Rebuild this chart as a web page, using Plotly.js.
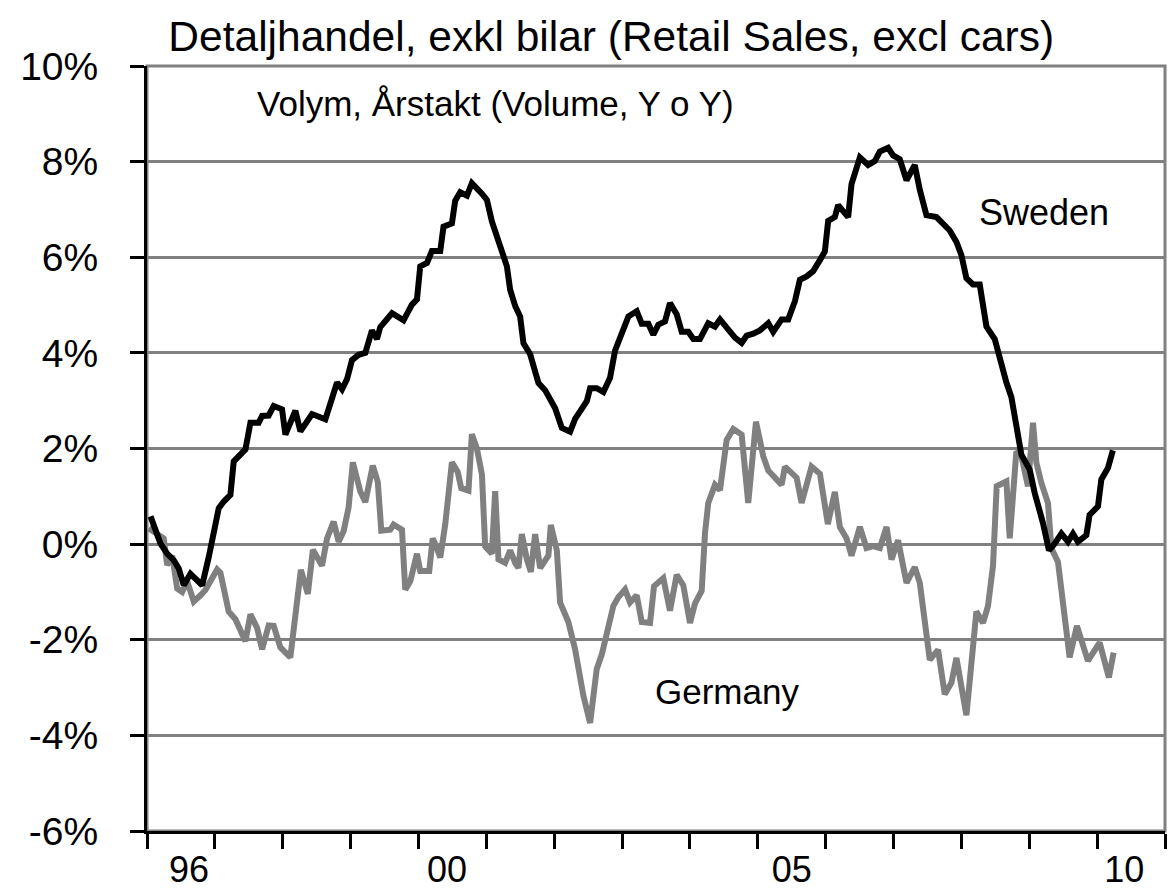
<!DOCTYPE html>
<html>
<head>
<meta charset="utf-8">
<script src="https://cdn.plot.ly/plotly-3.0.1.min.js"></script>
<style>html,body{margin:0;padding:0;background:#fff;}#chart{width:1171px;height:893px;}</style>
</head>
<body>
<div id="chart"></div>
<script>
// Decimal-year positions and values (%)
const swedenYear = [1996.052,1996.100,1996.199,1996.297,1996.395,1996.468,1996.542,1996.640,1996.813,1996.910,
1996.983,1997.057,1997.131,1997.229,1997.278,1997.376,1997.450,1997.524,1997.646,1997.696,
1997.793,1997.867,1997.990,1998.039,1998.186,1998.260,1998.432,1998.628,1998.726,1998.800,
1998.874,1998.947,1999.021,1999.118,1999.217,1999.315,1999.389,1999.437,1999.610,1999.780,
1999.904,1999.978,2000.026,2000.125,2000.198,2000.321,2000.369,2000.493,2000.541,2000.615,
2000.714,2000.787,2000.935,2001.008,2001.082,2001.155,2001.229,2001.303,2001.351,2001.425,
2001.498,2001.547,2001.646,2001.719,2001.768,2001.866,2001.940,2002.014,2002.112,2002.234,
2002.308,2002.407,2002.480,2002.529,2002.627,2002.725,2002.823,2002.897,2002.970,2003.093,
2003.216,2003.290,2003.387,2003.461,2003.534,2003.633,2003.706,2003.805,2003.879,2003.976,
2004.050,2004.148,2004.270,2004.369,2004.443,2004.541,2004.663,2004.762,2004.836,2004.933,
2005.031,2005.154,2005.227,2005.351,2005.448,2005.547,2005.620,2005.719,2005.816,2005.915,
2005.988,2006.037,2006.135,2006.184,2006.234,2006.331,2006.381,2006.504,2006.626,2006.724,
2006.798,2006.920,2006.994,2007.092,2007.191,2007.313,2007.387,2007.485,2007.633,2007.730,
2007.828,2007.927,2008.001,2008.074,2008.171,2008.270,2008.369,2008.491,2008.564,2008.663,
2008.737,2008.810,2008.884,2009.006,2009.080,2009.202,2009.290,2009.374,2009.473,2009.570,
2009.644,2009.717,2009.841,2009.889,2010.012,2010.062,2010.159,2010.232];
const swedenVal = [0.58,0.36,0.01,-0.2,-0.34,-0.51,-0.86,-0.62,-0.86,-0.27,
0.22,0.75,0.89,1.03,1.73,1.87,1.98,2.54,2.54,2.68,
2.69,2.89,2.82,2.29,2.79,2.36,2.72,2.61,3.09,3.38,
3.24,3.45,3.85,3.96,4.0,4.47,4.29,4.54,4.83,4.68,
5.01,5.12,5.81,5.88,6.13,6.13,6.64,6.71,7.18,7.36,
7.29,7.55,7.33,7.2,6.75,6.45,6.08,5.81,5.32,4.98,
4.76,4.2,3.97,3.63,3.37,3.22,3.03,2.84,2.43,2.35,
2.62,2.84,2.99,3.26,3.26,3.18,3.48,4.05,4.35,4.76,
4.87,4.61,4.61,4.38,4.59,4.66,5.04,4.81,4.44,4.44,
4.29,4.29,4.62,4.55,4.7,4.51,4.32,4.21,4.36,4.4,
4.47,4.62,4.44,4.7,4.7,5.08,5.53,5.6,5.71,5.94,
6.12,6.76,6.84,7.09,7.0,6.84,7.53,8.09,7.93,8.01,
8.21,8.29,8.13,8.05,7.61,7.93,7.41,6.88,6.84,6.68,
6.56,6.32,6.04,5.56,5.43,5.43,4.55,4.29,3.87,3.38,
3.07,2.47,1.87,1.56,1.07,0.44,-0.13,0.01,0.22,0.05,
0.22,0.05,0.19,0.61,0.79,1.35,1.59,1.96];

const germanyYear = [1996.026,1996.199,1996.247,1996.297,1996.371,1996.445,1996.518,1996.592,1996.689,1996.788,
1996.861,1997.033,1997.082,1997.204,1997.303,1997.450,1997.524,1997.622,1997.696,1997.793,
1997.867,1997.965,1998.112,1998.267,1998.370,1998.444,1998.579,1998.653,1998.750,1998.824,
1998.897,1998.971,1999.033,1999.143,1999.217,1999.327,1999.401,1999.452,1999.585,1999.633,
1999.757,1999.805,1999.879,1999.978,2000.026,2000.159,2000.210,2000.254,2000.321,2000.394,
2000.493,2000.578,2000.630,2000.737,2000.787,2000.861,2000.935,2000.983,2001.082,2001.130,
2001.179,2001.277,2001.351,2001.425,2001.473,2001.523,2001.597,2001.656,2001.719,2001.793,
2001.866,2001.915,2001.950,2002.039,2002.087,2002.209,2002.308,2002.430,2002.529,2002.627,
2002.701,2002.798,2002.872,2002.945,2003.044,2003.118,2003.216,2003.290,2003.412,2003.471,
2003.608,2003.706,2003.805,2003.902,2004.001,2004.075,2004.173,2004.222,2004.270,2004.369,
2004.443,2004.541,2004.638,2004.762,2004.859,2004.973,2005.080,2005.154,2005.277,2005.351,
2005.399,2005.498,2005.572,2005.645,2005.719,2005.792,2005.915,2006.032,2006.135,2006.209,
2006.308,2006.381,2006.504,2006.602,2006.699,2006.798,2006.897,2006.970,2007.067,2007.191,
2007.313,2007.387,2007.460,2007.534,2007.656,2007.755,2007.853,2007.927,2008.074,2008.148,
2008.221,2008.319,2008.392,2008.466,2008.520,2008.663,2008.712,2008.810,2008.884,2008.981,
2009.055,2009.105,2009.178,2009.276,2009.326,2009.423,2009.496,2009.595,2009.702,2009.864,
2010.037,2010.173,2010.243];
const germanyVal = [0.33,0.15,0.12,-0.44,-0.24,-0.93,-1.0,-0.78,-1.2,-1.07,
-0.96,-0.53,-0.6,-1.41,-1.57,-2.03,-1.47,-1.75,-2.2,-1.7,
-1.71,-2.16,-2.37,-0.54,-1.04,-0.12,-0.45,0.12,0.47,0.05,
0.27,0.77,1.71,1.10,0.88,1.64,1.3,0.28,0.3,0.41,
0.3,-0.95,-0.78,-0.2,-0.56,-0.56,0.12,-0.02,-0.28,0.41,
1.71,1.51,1.17,1.12,2.3,2.0,1.46,-0.05,-0.2,1.11,
-0.32,-0.39,-0.13,-0.39,-0.5,0.21,-0.32,-0.58,0.21,-0.5,
-0.35,-0.24,0.40,-0.13,-1.22,-1.63,-2.2,-3.17,-3.74,-2.61,
-2.31,-1.74,-1.29,-1.11,-0.95,-1.22,-1.07,-1.63,-1.65,-0.88,
-0.71,-1.39,-0.64,-0.86,-1.65,-1.24,-0.98,0.23,0.86,1.24,
1.13,2.18,2.41,2.29,0.86,2.56,1.84,1.54,1.35,1.24,
1.62,1.47,1.39,0.86,1.28,1.62,1.47,0.42,1.09,0.36,
0.12,-0.24,0.36,-0.08,-0.04,-0.08,0.36,-0.32,0.08,-0.81,
-0.48,-0.81,-1.61,-2.42,-2.21,-3.14,-2.9,-2.38,-3.58,-2.58,
-1.41,-1.65,-1.29,-0.45,1.21,1.31,0.12,1.94,1.84,1.21,
2.54,1.7,1.28,0.86,-0.09,-0.37,-1.25,-2.37,-1.71,-2.44,
-2.06,-2.79,-2.27];

const yearTicks = [1996,1997,1998,1999,2000,2001,2002,2003,2004,2005,2006,2007,2008,2009,2010,2011];
const xLabelPos = [1996.62,2000.42,2005.5,2010.4];
const xLabels = ['96','00','05','10'];
const yTickVals = [-6,-4,-2,0,2,4,6,8,10];
const yTickText = ['-6%','-4%','-2%','0%','2%','4%','6%','8%','10%'];

const FONT = 'Liberation Sans, Arial, Helvetica, sans-serif';

const traces = [
  {x: germanyYear, y: germanyVal, type:'scatter', mode:'lines', name:'Germany',
   line:{color:'#808080', width:6}, hoverinfo:'skip'},
  {x: swedenYear, y: swedenVal, type:'scatter', mode:'lines', name:'Sweden',
   line:{color:'#000000', width:6}, hoverinfo:'skip'}
];

const layout = {
  width:1171, height:893,
  margin:{l:147, r:6, t:66, b:62, pad:0},
  paper_bgcolor:'#ffffff', plot_bgcolor:'#ffffff',
  showlegend:false,
  font:{family:FONT, color:'#000'},
  title:{text:'Detaljhandel, exkl bilar (Retail Sales, excl cars)', font:{family:FONT, size:42.5, color:'#000'},
         x:0.522, xanchor:'center', xref:'container', y:0.960, yanchor:'middle', yref:'container'},
  xaxis:{range:[1996,2011], tickmode:'array', tickvals:xLabelPos, ticktext:xLabels, ticks:'',
         showline:true, linecolor:'#000', linewidth:3, showgrid:false, zeroline:false,
         tickfont:{family:FONT, size:36, color:'#000'}, ticklabelstandoff:5,
         minor:{tickmode:'array', tickvals:yearTicks, ticks:'outside', ticklen:15, tickwidth:3,
                tickcolor:'#000', showgrid:false}},
  yaxis:{range:[-6,10], tickmode:'array', tickvals:yTickVals, ticktext:yTickText,
         ticks:'outside', ticklen:14, tickwidth:3, tickcolor:'#000',
         showline:true, linecolor:'#000', linewidth:3,
         showgrid:true, gridcolor:'#808080', gridwidth:3, zeroline:false,
         tickfont:{family:FONT, size:39, color:'#000'}, ticklabelstandoff:24},
  shapes:[{type:'rect', xref:'paper', yref:'paper', x0:0, x1:1, y0:0, y1:1,
           line:{color:'#808080', width:3}, layer:'below'}],
  annotations:[
    {text:'Volym, Årstakt (Volume, Y o Y)', xref:'paper', yref:'paper', x:0.342, y:0.9516,
     xanchor:'center', yanchor:'middle', showarrow:false, font:{family:FONT, size:35, color:'#000'}},
    {text:'Sweden', xref:'paper', yref:'paper', x:0.881, y:0.808,
     xanchor:'center', yanchor:'middle', showarrow:false, font:{family:FONT, size:36, color:'#000'}},
    {text:'Germany', xref:'paper', yref:'paper', x:0.570, y:0.1817,
     xanchor:'center', yanchor:'middle', showarrow:false, font:{family:FONT, size:35, color:'#000'}}
  ]
};

Plotly.newPlot('chart', traces, layout, {displayModeBar:false, staticPlot:true});
</script>
</body>
</html>
